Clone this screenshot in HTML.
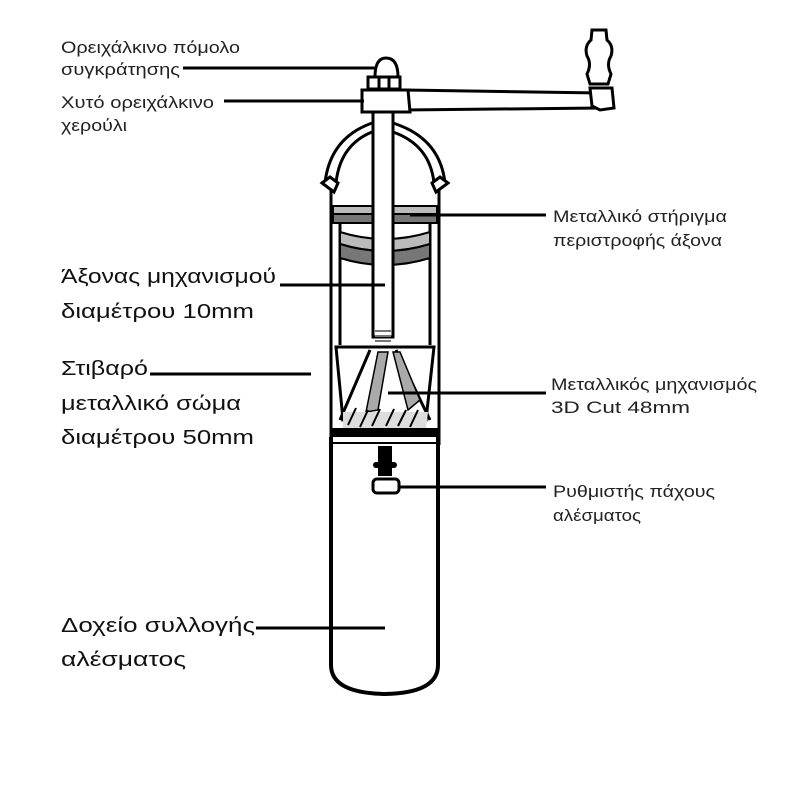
<!DOCTYPE html>
<html><head><meta charset="utf-8"><style>
body{margin:0;background:#fff;}
svg{display:block}
.s{font-family:"Liberation Sans",sans-serif;font-size:17px;fill:#222;}
.l{font-family:"Liberation Sans",sans-serif;font-size:20px;fill:#111;}
</style></head><body>
<svg width="794" height="794" viewBox="0 0 794 794" xmlns="http://www.w3.org/2000/svg">
<rect width="794" height="794" fill="#fff"/>
<g fill="none" stroke="#000" stroke-width="3">
<path d="M405 90 L600 93 L600 108 L405 110 Z" fill="#fff"/>
<path d="M590 88 L612 88 L614 108 L600 110 L592 106 Z" fill="#fff"/>
<path d="M592 30 L606 30 L607 40 Q614 46 611 56 Q606 64 611 74 L608 84 L590 84 L587 74 Q592 64 587 56 Q584 46 591 40 Z" fill="#fff"/>
<path d="M375 77 Q375 58 386 58 Q398 58 398 77 Z" fill="#fff"/>
<rect x="368" y="77" width="32" height="12" fill="#fff"/>
<line x1="379" y1="77" x2="379" y2="89"/><line x1="389" y1="77" x2="389" y2="89"/>
<path d="M362 90 L408 90 L410 112 L362 112 Z" fill="#fff"/>
<path d="M325 183 Q330 138 372 123"/>
<path d="M336 183 Q340 145 372 132"/>
<path d="M445 183 Q440 138 393 123"/>
<path d="M434 183 Q430 145 393 132"/>
<path d="M322 183 L330 177 L338 183 L334 192 Z" fill="#fff"/>
<path d="M448 183 L440 177 L432 183 L436 192 Z" fill="#fff"/>
<line x1="331" y1="190" x2="331" y2="445"/>
<line x1="439" y1="190" x2="439" y2="445"/>
<line x1="340" y1="222" x2="340" y2="345"/>
<line x1="430" y1="222" x2="430" y2="345"/>
</g>
<rect x="333" y="206" width="104" height="8" fill="#bbb" stroke="#000" stroke-width="2"/>
<rect x="333" y="214" width="104" height="9" fill="#777" stroke="#000" stroke-width="2"/>
<path d="M340 232 Q385 246 430 232 L430 244 Q385 258 340 244 Z" fill="#bbb" stroke="#000" stroke-width="2"/>
<path d="M340 244 Q385 258 430 244 L430 258 Q385 272 340 258 Z" fill="#777" stroke="#000" stroke-width="2"/>
<rect x="373" y="112" width="20" height="225" fill="#fff" stroke="#000" stroke-width="3"/>
<g stroke="#777" stroke-width="2"><line x1="375" y1="331" x2="391" y2="331"/><line x1="375" y1="336" x2="391" y2="336"/><line x1="375" y1="341" x2="391" y2="341"/></g>
<path d="M336 347 L434 347 L426 420 L343 420 Z" fill="#fff" stroke="#000" stroke-width="3"/>
<path d="M370 350 L340 420" stroke="#000" stroke-width="3"/>
<path d="M396 350 L430 420" stroke="#000" stroke-width="3"/>
<path d="M378 352 L388 352 L378 410 L366 412 Z" fill="#aaa" stroke="#000" stroke-width="1.5"/>
<path d="M393 352 L400 352 L420 400 L408 410 Z" fill="#aaa" stroke="#000" stroke-width="1.5"/>
<path d="M343 412 L428 412 L426 428 L343 428 Z" fill="#ddd"/>
<g stroke="#000" stroke-width="2"><path d="M348 425 L356 408 M360 427 L368 410 M372 426 L380 409 M386 426 L394 409 M398 426 L406 410 M410 427 L418 410"/></g>
<rect x="331" y="428" width="108" height="9" fill="#000"/>
<line x1="331" y1="443" x2="439" y2="443" stroke="#000" stroke-width="2"/>
<path d="M331 437 L331 665 Q331 693 385 694 Q438 693 438 665 L438 437" fill="none" stroke="#000" stroke-width="4"/>
<rect x="378" y="446" width="14" height="30" fill="#000"/>
<rect x="373" y="462" width="24" height="6" rx="3" fill="#000"/>
<rect x="373" y="479" width="26" height="14" rx="4" fill="#fff" stroke="#000" stroke-width="3"/>
<g stroke="#000" stroke-width="3">
<line x1="183" y1="68" x2="377" y2="68"/>
<line x1="224" y1="101" x2="364" y2="101"/>
<line x1="410" y1="215" x2="546" y2="215"/>
<line x1="280" y1="285" x2="385" y2="285"/>
<line x1="150" y1="374" x2="311" y2="374"/>
<line x1="388" y1="393" x2="546" y2="393"/>
<line x1="398" y1="487" x2="546" y2="487"/>
<line x1="256" y1="628" x2="385" y2="628"/>
</g>
<g lengthAdjust="spacingAndGlyphs">
<text class="s" x="61" y="53" textLength="179" lengthAdjust="spacingAndGlyphs">Ορειχάλκινο πόμολο</text>
<text class="s" x="61" y="75" textLength="119" lengthAdjust="spacingAndGlyphs">συγκράτησης</text>
<text class="s" x="61" y="108" textLength="153" lengthAdjust="spacingAndGlyphs">Χυτό ορειχάλκινο</text>
<text class="s" x="61" y="131" textLength="66" lengthAdjust="spacingAndGlyphs">χερούλι</text>
<text class="s" x="553" y="222" textLength="174" lengthAdjust="spacingAndGlyphs">Μεταλλικό στήριγμα</text>
<text class="s" x="553" y="246" textLength="169" lengthAdjust="spacingAndGlyphs">περιστροφής άξονα</text>
<text class="s" x="551" y="390" textLength="206" lengthAdjust="spacingAndGlyphs">Μεταλλικός μηχανισμός</text>
<text class="s" x="551" y="413" textLength="139" lengthAdjust="spacingAndGlyphs">3D Cut  48mm</text>
<text class="s" x="553" y="497" textLength="162" lengthAdjust="spacingAndGlyphs">Ρυθμιστής πάχους</text>
<text class="s" x="553" y="521" textLength="88" lengthAdjust="spacingAndGlyphs">αλέσματος</text>
<text class="l" x="61" y="283" textLength="215" lengthAdjust="spacingAndGlyphs">Άξονας μηχανισμού</text>
<text class="l" x="61" y="318" textLength="193" lengthAdjust="spacingAndGlyphs">διαμέτρου 10mm</text>
<text class="l" x="61" y="375" textLength="87" lengthAdjust="spacingAndGlyphs">Στιβαρό</text>
<text class="l" x="61" y="410" textLength="180" lengthAdjust="spacingAndGlyphs">μεταλλικό σώμα</text>
<text class="l" x="61" y="444" textLength="193" lengthAdjust="spacingAndGlyphs">διαμέτρου 50mm</text>
<text class="l" x="61" y="632" textLength="194" lengthAdjust="spacingAndGlyphs">Δοχείο συλλογής</text>
<text class="l" x="61" y="666" textLength="125" lengthAdjust="spacingAndGlyphs">αλέσματος</text>
</g>
</svg>
</body></html>
